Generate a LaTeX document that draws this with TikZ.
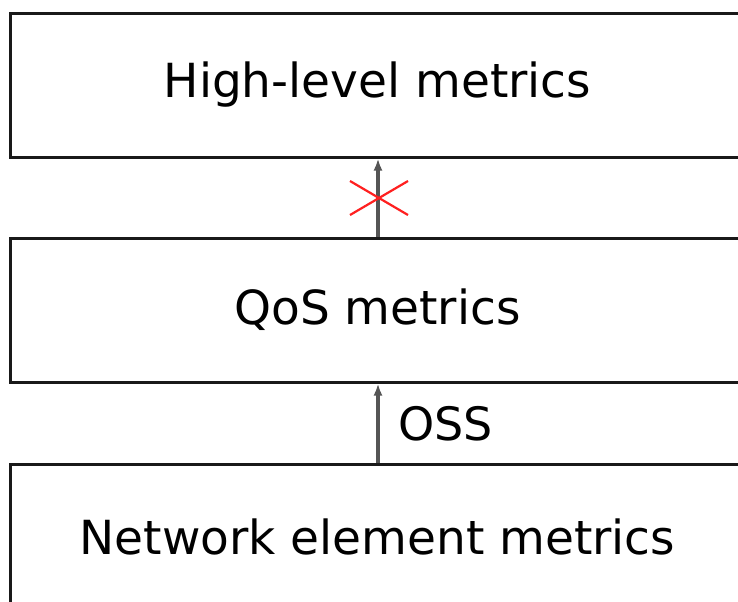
\documentclass[tikz,border=0pt]{standalone}
\usepackage{fontspec}
\setmainfont{DejaVu Sans}
\usetikzlibrary{arrows.meta}
\definecolor{wire}{HTML}{555555}
\definecolor{block}{HTML}{FF2020}

\begin{document}
\begin{tikzpicture}[x=0.5pt,y=-0.5pt,
          layer/.style={draw=black!90,line width=1.5pt,minimum width=367.5pt,minimum height=72pt,
            inner sep=0pt,font=\fontsize{23.5pt}{28pt}\selectfont},
          feed/.style={wire,line width=1.6pt,-{Latex[length=6pt,width=4.5pt]}}]
        \useasboundingbox (0,0) rectangle (738,601);
        \clip (0,0) rectangle (738,601);
        \node[layer] (high) at (377.5,85)  {High-level metrics};
        \node[layer] (qos)  at (377.5,310) {QoS metrics};
        \node[layer] (net)  at (377.5,536.5) {Network element metrics};
        % links between the layers
        \draw[feed] (qos.north -| 378,0) -- (high.south -| 378,0);
        \draw[feed] (net.north -| 378,0) -- node[right=6pt,text=black,font=\fontsize{23pt}{28pt}\selectfont] (oss) {OSS} (qos.south -| 378,0);
        % broken link
        \coordinate (cut) at (379,198);
        \draw[block,line width=1.1pt] ([shift={(-29,-17)}]cut) -- ([shift={(29,17)}]cut)
                                        ([shift={(-29,17)}]cut) -- ([shift={(29,-17)}]cut);
      \end{tikzpicture}
\end{document}
